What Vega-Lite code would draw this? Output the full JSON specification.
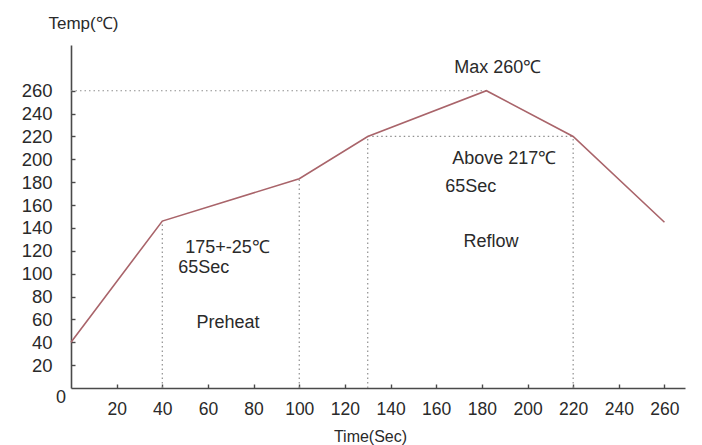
{
  "$schema": "https://vega.github.io/schema/vega-lite/v6.json",
  "width": 614,
  "height": 343,
  "autosize": {"type": "none"},
  "padding": {"left": 71, "top": 45, "right": 17, "bottom": 57},
  "background": "white",
  "config": {
    "view": {"stroke": null},
    "font": "Liberation Sans",
    "axis": {
      "grid": false,
      "domainColor": "#4a4a4a",
      "domainWidth": 1.6,
      "tickColor": "#4a4a4a",
      "tickWidth": 1.4,
      "tickSize": -4,
      "labelColor": "#2a2a2a",
      "labelFont": "Liberation Sans",
      "titleColor": "#2a2a2a",
      "titleFont": "Liberation Sans",
      "titleFontWeight": "normal"
    }
  },
  "datasets": {
    "profile": [
      {"t": 0, "temp": 40},
      {"t": 40, "temp": 146},
      {"t": 100, "temp": 183},
      {"t": 130, "temp": 220},
      {"t": 182, "temp": 260},
      {"t": 220, "temp": 220},
      {"t": 260, "temp": 145}
    ],
    "guides": [
      {"t": 0, "t2": 182, "temp": 260, "temp2": 260},
      {"t": 130, "t2": 220, "temp": 220, "temp2": 220},
      {"t": 40, "t2": 40, "temp": 0, "temp2": 146},
      {"t": 100, "t2": 100, "temp": 0, "temp2": 183},
      {"t": 130, "t2": 130, "temp": 0, "temp2": 220},
      {"t": 220, "t2": 220, "temp": 0, "temp2": 220}
    ],
    "labelsLeft": [
      {"t": 167, "temp": 200, "text": "Above 217℃"},
      {"t": 164, "temp": 176, "text": "65Sec"},
      {"t": 172, "temp": 128, "text": "Reflow"},
      {"t": 50, "temp": 122.5, "text": "175+-25℃"},
      {"t": 47, "temp": 105, "text": "65Sec"},
      {"t": 55, "temp": 57, "text": "Preheat"}
    ],
    "labelsCenter": [
      {"t": 187, "temp": 280, "text": "Max 260℃"}
    ],
    "origin": [{"t": 0, "temp": 0, "text": "0"}]
  },
  "encoding": {
    "x": {
      "field": "t", "type": "quantitative",
      "scale": {"domain": [0, 269], "nice": false, "zero": false},
      "axis": {
        "values": [20, 40, 60, 80, 100, 120, 140, 160, 180, 200, 220, 240, 260],
        "labelFontSize": 17.5,
        "labelPadding": 16,
        "labelFlush": false,
        "labelOverlap": false,
        "labelBound": false,
        "title": "Time(Sec)",
        "titleFontSize": 16,
        "titleX": 299,
        "titleY": 48,
        "titleBaseline": "middle",
        "titleAnchor": null
      }
    },
    "y": {
      "field": "temp", "type": "quantitative",
      "scale": {"domain": [0, 300], "nice": false, "zero": false},
      "axis": {
        "values": [20, 40, 60, 80, 100, 120, 140, 160, 180, 200, 220, 240, 260],
        "labelFontSize": 18.5,
        "labelPadding": 23,
        "labelFlush": false,
        "labelOverlap": false,
        "labelBound": false,
        "labelSeparation": 0,
        "title": "Temp(℃)",
        "titleFontSize": 17,
        "titleAngle": 0,
        "titleAlign": "left",
        "titleBaseline": "middle",
        "titleX": -23,
        "titleY": -22
      }
    }
  },
  "layer": [
    {
      "data": {"name": "guides"},
      "mark": {"type": "rule", "color": "#8f8f8f", "strokeWidth": 1.2, "strokeDash": [1.5, 3]},
      "encoding": {
        "x2": {"field": "t2"},
        "y2": {"field": "temp2"}
      }
    },
    {
      "data": {"name": "profile"},
      "mark": {"type": "line", "color": "#a9646a", "strokeWidth": 1.6},
      "encoding": {}
    },
    {
      "data": {"name": "labelsLeft"},
      "mark": {"type": "text", "fontSize": 18, "color": "#2a2a2a", "baseline": "middle", "align": "left"},
      "encoding": {
        "text": {"field": "text"}
      }
    },
    {
      "data": {"name": "labelsCenter"},
      "mark": {"type": "text", "fontSize": 18, "color": "#2a2a2a", "baseline": "middle", "align": "center"},
      "encoding": {
        "text": {"field": "text"}
      }
    },
    {
      "data": {"name": "origin"},
      "mark": {"type": "text", "fontSize": 18, "color": "#2a2a2a", "baseline": "middle", "align": "center", "dx": -10, "dy": 10},
      "encoding": {
        "text": {"field": "text"}
      }
    }
  ]
}
